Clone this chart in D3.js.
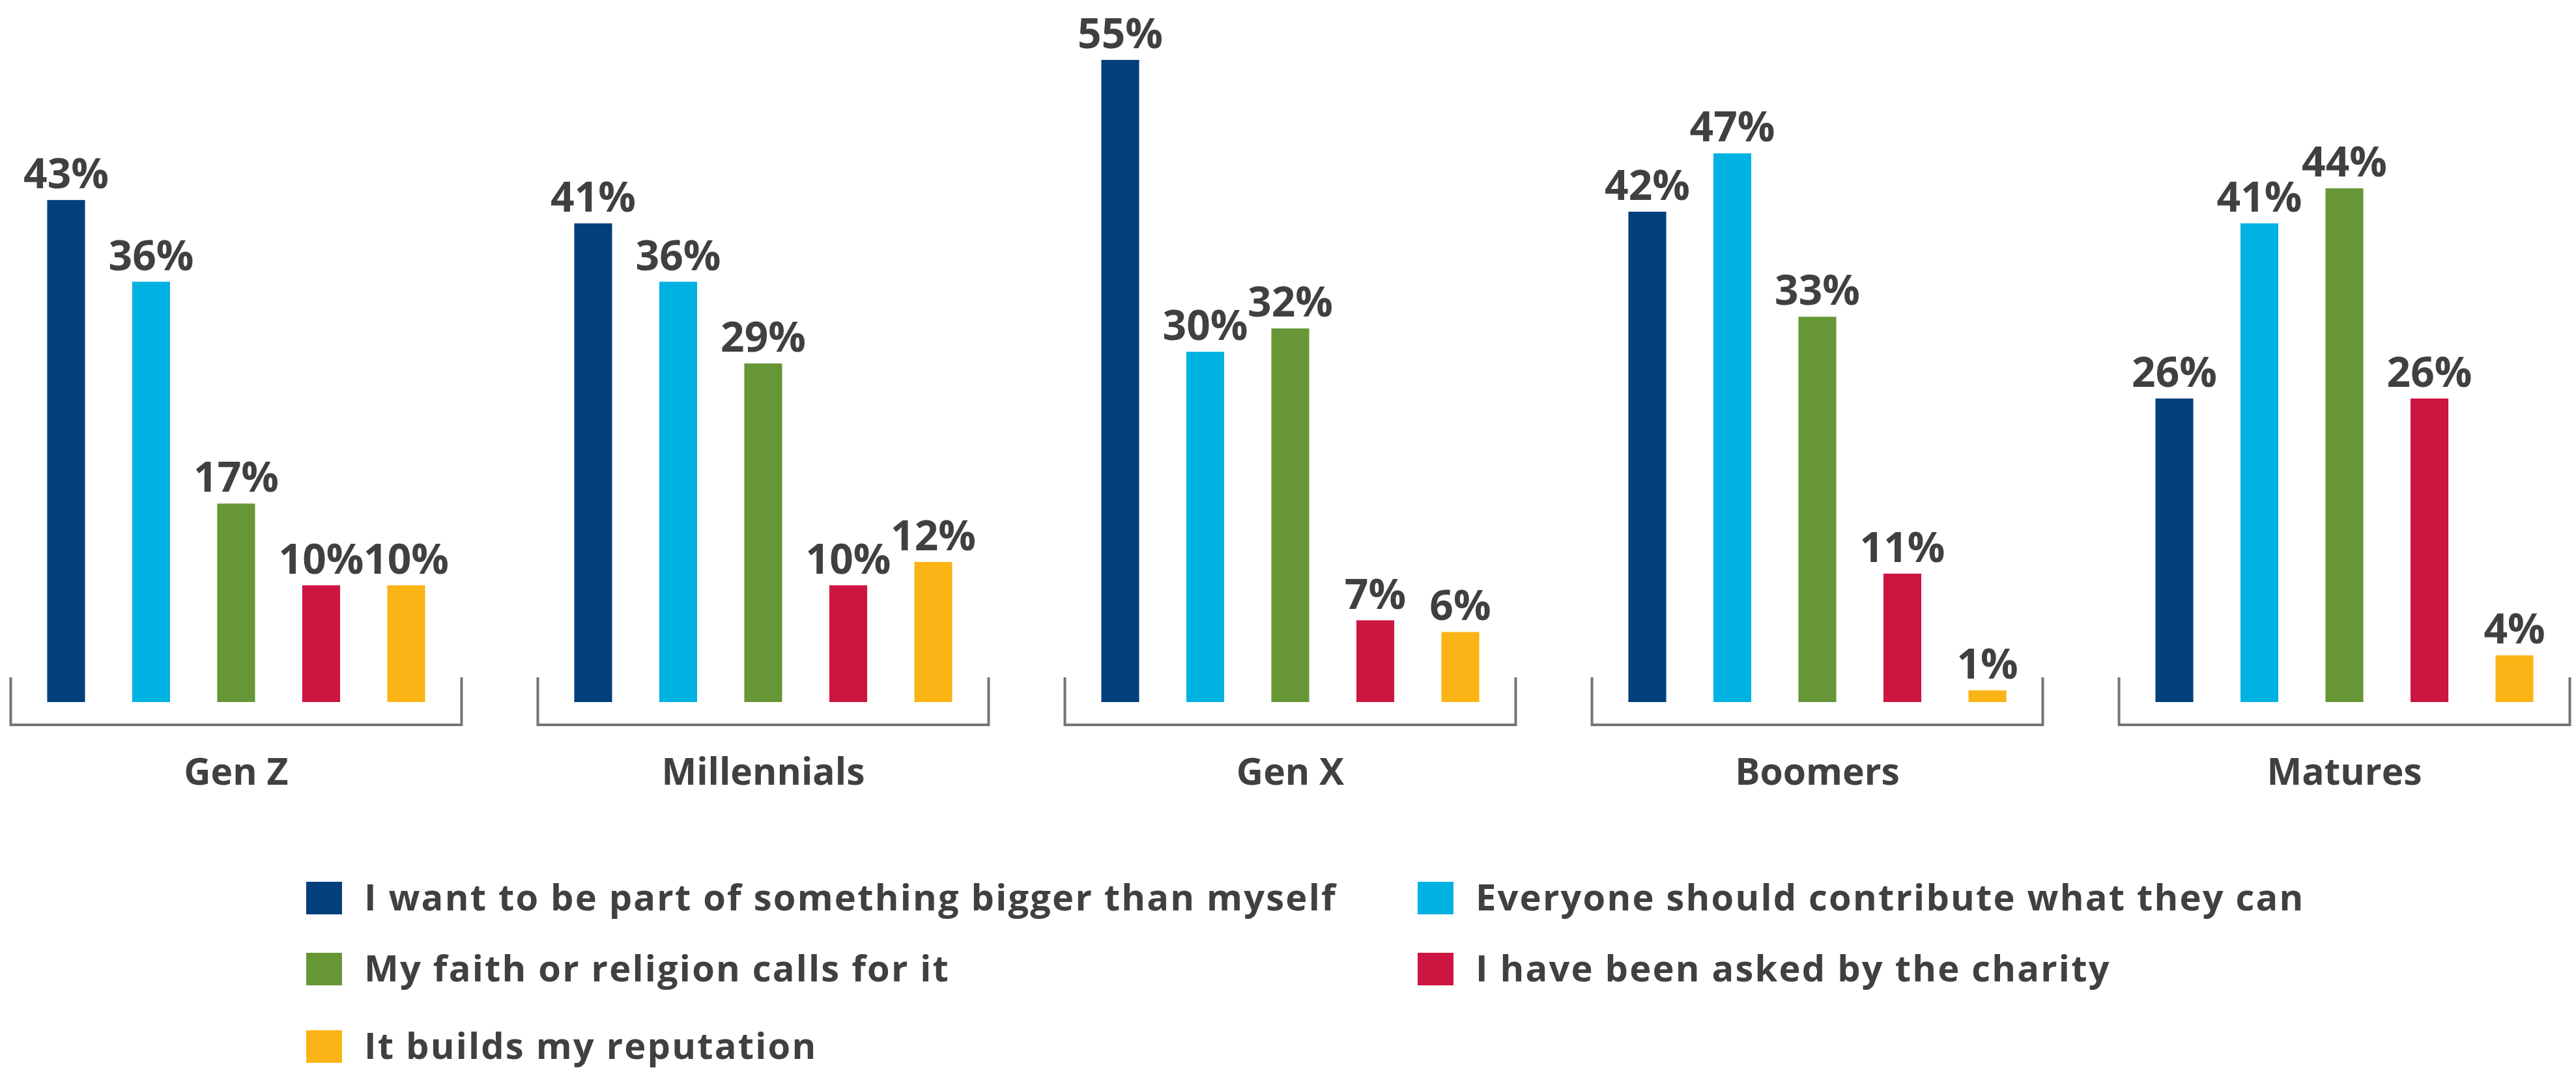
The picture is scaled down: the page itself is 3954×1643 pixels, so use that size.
<!DOCTYPE html>
<html>
<head>
<meta charset="utf-8">
<script src="https://cdn.jsdelivr.net/npm/d3@7"></script>
<style>
  html, body { margin: 0; padding: 0; background: #ffffff; }
  svg { display: block; }
  text { font-family: "Open Sans", "DejaVu Sans", sans-serif; font-weight: 700; fill: #404043; }
</style>
</head>
<body>
<svg id="chart" width="3954" height="1643"></svg>
<script>
// Reasons for giving, by generation (percent of respondents)
const generations = ["Gen Z", "Millennials", "Gen X", "Boomers", "Matures"];
const reasons = [
  "I want to be part of something bigger than myself",
  "Everyone should contribute what they can",
  "My faith or religion calls for it",
  "I have been asked by the charity",
  "It builds my reputation"
];
const biggerThanMyself   = [43, 41, 55, 42, 26];
const everyoneContribute = [36, 36, 30, 47, 41];
const faithOrReligion    = [17, 29, 32, 33, 44];
const askedByCharity     = [10, 10, 7, 11, 26];
const buildsReputation   = [10, 12, 6, 1, 4];
const reasonColors = ["#033f7b", "#00b2e2", "#679636", "#cc1541", "#fbb416"];

const seriesValues = [biggerThanMyself, everyoneContribute, faithOrReligion, askedByCharity, buildsReputation];

const rows = generations.map((g, gi) => ({
  generation: g,
  values: reasons.map((r, ri) => ({ reason: r, value: seriesValues[ri][gi], color: reasonColors[ri] }))
}));

const svg = d3.select("#chart");

// Scales
const x0 = d3.scaleBand().domain(generations).range([15, 3946]).paddingInner(0.141).paddingOuter(0);
const x1 = d3.scaleBand().domain(reasons).range([0, x0.bandwidth()]).paddingInner(0.555).paddingOuter(0.44);
const y = d3.scaleLinear().domain([0, 55]).range([1078, 92]);
const color = d3.scaleOrdinal().domain(reasons).range(reasonColors);

const groups = svg.selectAll("g.group")
  .data(rows)
  .join("g")
  .attr("class", "group")
  .attr("transform", d => `translate(${x0(d.generation)},0)`);

// Bars
groups.selectAll("rect.bar")
  .data(d => d.values)
  .join("rect")
  .attr("class", "bar")
  .attr("x", d => x1(d.reason))
  .attr("width", x1.bandwidth())
  .attr("y", d => y(d.value))
  .attr("height", d => y(0) - y(d.value))
  .attr("fill", d => color(d.reason));

// Value labels
groups.selectAll("text.value")
  .data(d => d.values)
  .join("text")
  .attr("class", "value")
  .attr("x", d => x1(d.reason) + x1.bandwidth() / 2)
  .attr("y", d => y(d.value) - 18)
  .attr("text-anchor", "middle")
  .attr("font-size", 64)
  .text(d => d.value + "%");

// Bracket under each generation
const bracketTop = 1040, bracketBottom = 1113;
groups.append("path")
  .attr("d", `M1.5,${bracketTop} V${bracketBottom} H${x0.bandwidth() - 1.5} V${bracketTop}`)
  .attr("fill", "none")
  .attr("stroke", "#747578")
  .attr("stroke-width", 4);

// Generation labels
groups.append("text")
  .attr("x", x0.bandwidth() / 2)
  .attr("y", 1205)
  .attr("text-anchor", "middle")
  .attr("font-size", 57)
  .text(d => d.generation);

// Legend: two columns, three rows
const legendCols = [470, 2176];
const legendRows = [1354, 1463, 1582];
const legend = svg.append("g").attr("class", "legend")
  .selectAll("g")
  .data(reasons)
  .join("g")
  .attr("transform", (d, i) => `translate(${legendCols[i % 2]},${legendRows[Math.floor(i / 2)]})`);

legend.append("rect")
  .attr("width", 55)
  .attr("height", 50)
  .attr("fill", d => color(d));

legend.append("text")
  .attr("x", 89)
  .attr("y", 44)
  .attr("font-size", 56)
  .attr("letter-spacing", 2.2)
  .text(d => d);
</script>
</body>
</html>
